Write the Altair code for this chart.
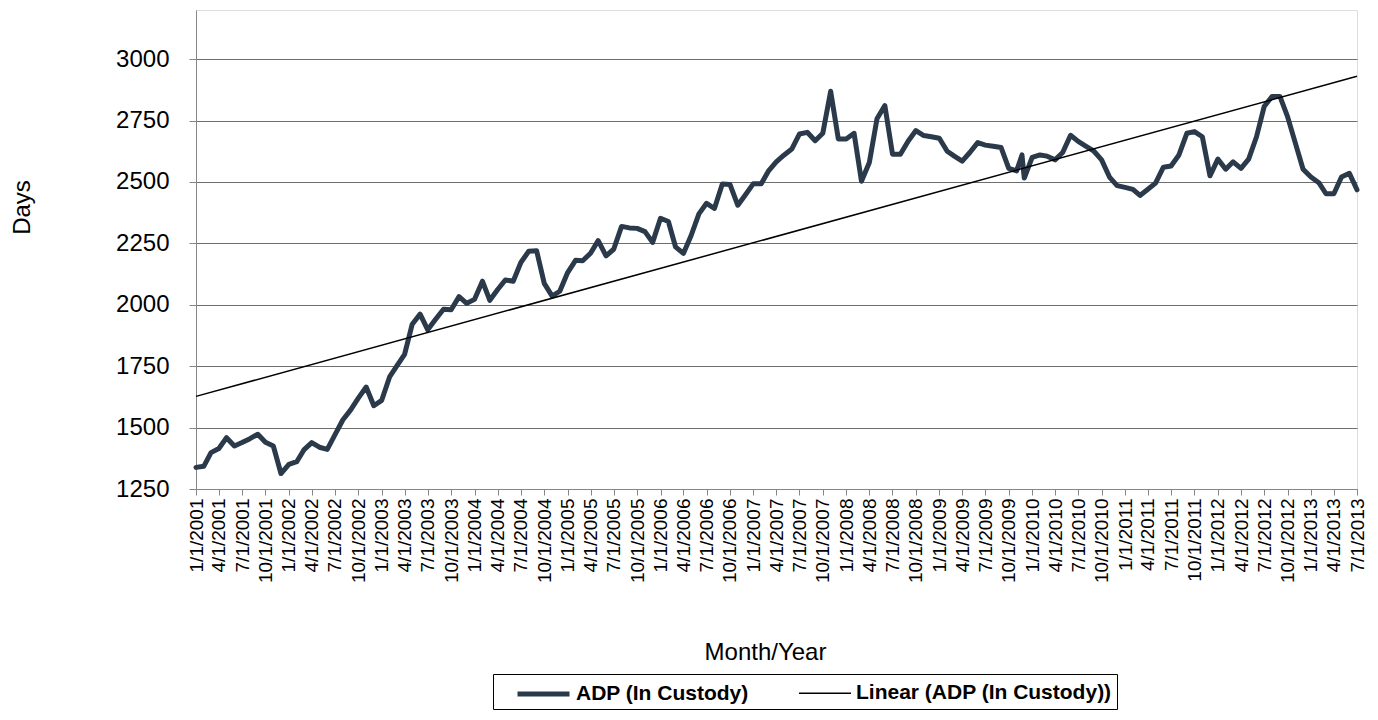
import altair as alt
import pandas as pd

# ---- data (monthly, 1/1/2001 .. 7/1/2013) ----
years = list(range(2001, 2014))
v2001 = [1338, 1343, 1398, 1415, 1459, 1425, 1439, 1455, 1473, 1440, 1425, 1313]
v2002 = [1350, 1361, 1409, 1439, 1420, 1411, 1470, 1531, 1572, 1620, 1665, 1589]
v2003 = [1611, 1706, 1750, 1798, 1921, 1962, 1898, 1941, 1982, 1980, 2033, 2006]
v2004 = [2022, 2096, 2018, 2062, 2101, 2096, 2172, 2218, 2220, 2087, 2035, 2055]
v2005 = [2131, 2181, 2179, 2210, 2261, 2199, 2226, 2319, 2313, 2311, 2298, 2254]
v2006 = [2352, 2339, 2236, 2209, 2281, 2370, 2413, 2392, 2492, 2490, 2405, 2448]
v2007 = [2493, 2493, 2544, 2582, 2609, 2634, 2695, 2702, 2668, 2698, 2869, 2675]
v2008 = [2675, 2698, 2503, 2579, 2757, 2811, 2613, 2613, 2667, 2709, 2689, 2684]
v2009 = [2678, 2625, 2605, 2585, 2620, 2660, 2650, 2645, 2640, 2555, 2545, 2516]
v2010 = [2600, 2610, 2605, 2590, 2620, 2690, 2665, 2645, 2625, 2590, 2520, 2485]
v2011 = [2478, 2470, 2445, 2470, 2495, 2560, 2565, 2610, 2698, 2705, 2684, 2525]
v2012 = [2593, 2552, 2582, 2555, 2593, 2684, 2807, 2848, 2848, 2766, 2657, 2552]
v2013 = [2520, 2497, 2452, 2452, 2520, 2535, 2468]
extra_date = "2009-11-22"
extra_value = 2610

# linear trendline (Excel)
trend_dates = ["2001-01-01", "2013-07-01"]
trend_values = [1627, 2930]

series_main = "ADP (In Custody)"
series_trend = "Linear (ADP (In Custody))"

all_years = [v2001, v2002, v2003, v2004, v2005, v2006, v2007,
             v2008, v2009, v2010, v2011, v2012, v2013]
rows = []
for yr, vals in zip(years, all_years):
    for m, v in enumerate(vals, start=1):
        rows.append({"date": f"{yr}-{m:02d}-01", "value": v, "series": series_main})
rows.append({"date": extra_date, "value": extra_value, "series": series_main})
df = pd.DataFrame(rows).sort_values("date").reset_index(drop=True)

tdf = pd.DataFrame({"date": trend_dates, "value": trend_values, "series": series_trend})

# quarterly tick dates
tick_vals = []
for yr in years:
    for m in (1, 4, 7, 10):
        if yr == 2013 and m > 7:
            continue
        tick_vals.append(alt.DateTime(year=yr, month=m, date=1, utc=True))

FONT = "Liberation Sans"
W, H = 1161, 479

legend = alt.Legend(
    title=None, orient="none", legendX=297, legendY=664,
    direction="horizontal", strokeColor="black", fillColor="white",
    padding=5, labelFont=FONT, labelFontSize=21, labelFontWeight="bold",
    labelColor="black", symbolType="M0.36,0H4.52", symbolSize=625,
    labelOffset=48, columnPadding=32, labelLimit=400,
)

color = alt.Color("series:N",
                  scale=alt.Scale(domain=[series_main, series_trend],
                                  range=["#2b3a4b", "#000000"]),
                  legend=legend)
swidth = alt.StrokeWidth("series:N",
                         scale=alt.Scale(domain=[series_main, series_trend],
                                         range=[5, 1.5]),
                         legend=legend)

x = alt.X("date:T",
          scale=alt.Scale(type="utc",
                          domain=[alt.DateTime(year=2001, month=1, date=1, utc=True),
                                  alt.DateTime(year=2013, month=7, date=1, utc=True)]),
          axis=alt.Axis(values=tick_vals, format="%-m/%-d/%Y", labelAngle=270,
                        labelFontSize=19, labelFont=FONT, labelColor="black",
                        labelOverlap=False, labelFlush=False, labelBound=False,
                        labelPadding=3, tickSize=6, tickColor="#868686",
                        domainColor="#868686", grid=False,
                        title="Month/Year", titleFont=FONT, titleFontSize=24,
                        titleFontWeight="normal", titleColor="black",
                        titleX=569, titleY=163, titleBaseline="middle",
                        titleAlign="center"))
y = alt.Y("value:Q",
          scale=alt.Scale(domain=[1250, 3200], nice=False, zero=False),
          axis=alt.Axis(values=[1250, 1500, 1750, 2000, 2250, 2500, 2750, 3000],
                        format="d",
                        labelFontSize=24, labelFont=FONT, labelColor="black",
                        labelPadding=20, tickSize=7, tickColor="#868686",
                        domainColor="#868686", grid=True, gridColor="#6e6e6e",
                        gridWidth=1,
                        title="Days", titleFont=FONT, titleFontSize=24,
                        titleFontWeight="normal", titleColor="black",
                        titleX=-174, titleY=197, titleAngle=270,
                        titleBaseline="middle", titleAlign="center"))

main = alt.Chart(df).mark_line(strokeJoin="round", strokeCap="round").encode(
    x=x, y=y, color=color, strokeWidth=swidth)
trend = alt.Chart(tdf).mark_line().encode(
    x=x, y=y, color=color, strokeWidth=swidth)

chart = alt.layer(main, trend).properties(
    width=W, height=H,
    autosize=alt.AutoSizeParams(type="none"),
    padding={"left": 188, "top": 2, "right": 13, "bottom": 223},
).configure_view(stroke=None).configure(background="white")

chart.save("out.html", embed_options={"renderer": "svg", "actions": False})
